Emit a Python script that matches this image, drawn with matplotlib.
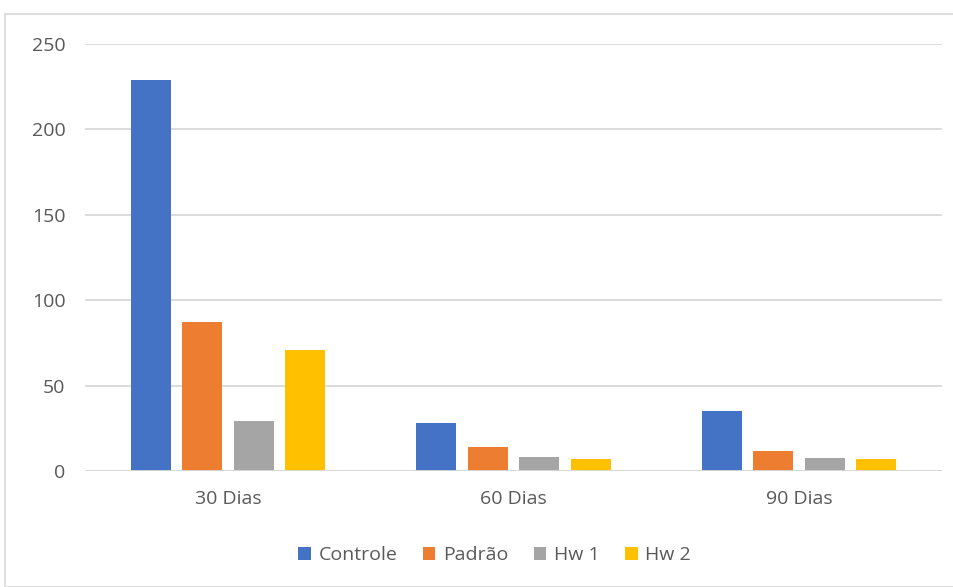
import numpy as np
from matplotlib import pyplot as plt
from matplotlib.patches import Rectangle

groups = ["30 Dias", "60 Dias", "90 Dias"]
series = ["Controle", "Padrão", "Hw 1", "Hw 2"]
controle = [229, 28, 35]
padrao = [87, 14, 11.5]
hw1 = [29, 8, 7.5]
hw2 = [71, 7.2, 7.2]
colors = ["#4472C4", "#ED7D31", "#A5A5A5", "#FFC000"]

plt.rcParams['font.family'] = ['Open Sans', 'DejaVu Sans']

fig = plt.figure(figsize=(9.54, 5.87), dpi=100)
ax = fig.add_axes([85/954, 1-471/587, (942-85)/954, (471-44)/587])

x = np.arange(len(groups))
width = 0.14
step = 0.18
for i, (vals, name) in enumerate(zip([controle, padrao, hw1, hw2], series)):
    ax.bar(x + (i - 1.5)*step, vals, width, color=colors[i], label=name, zorder=3)

ax.set_xlim(-0.5, 2.5)
ax.set_ylim(0, 250)
ax.set_yticks(range(0, 251, 50))
ax.set_xticks(x)
ax.set_xticklabels(groups)
ax.grid(axis='y', color="#D9D9D9", linewidth=1.3, zorder=0)
for s in ax.spines.values():
    s.set_visible(False)
ax.axhline(0, color="#D9D9D9", linewidth=1.3, zorder=4)
ax.tick_params(length=0, labelsize=14, colors="#595959")
ax.tick_params(axis='y', pad=14)
ax.tick_params(axis='x', pad=14)

ax.legend(loc='upper center', bbox_to_anchor=(0.478, -0.135), ncol=4, frameon=False,
          fontsize=14, labelcolor="#595959", handlelength=0.65, handleheight=0.65,
          handletextpad=0.4, columnspacing=1.3)

# chart frame
fig.patches.append(Rectangle((5/954, 0), 1, 1-14/587, transform=fig.transFigure,
                             fill=False, edgecolor="#D9D9D9", linewidth=1.2))

fig.savefig("out.png", dpi=100)
